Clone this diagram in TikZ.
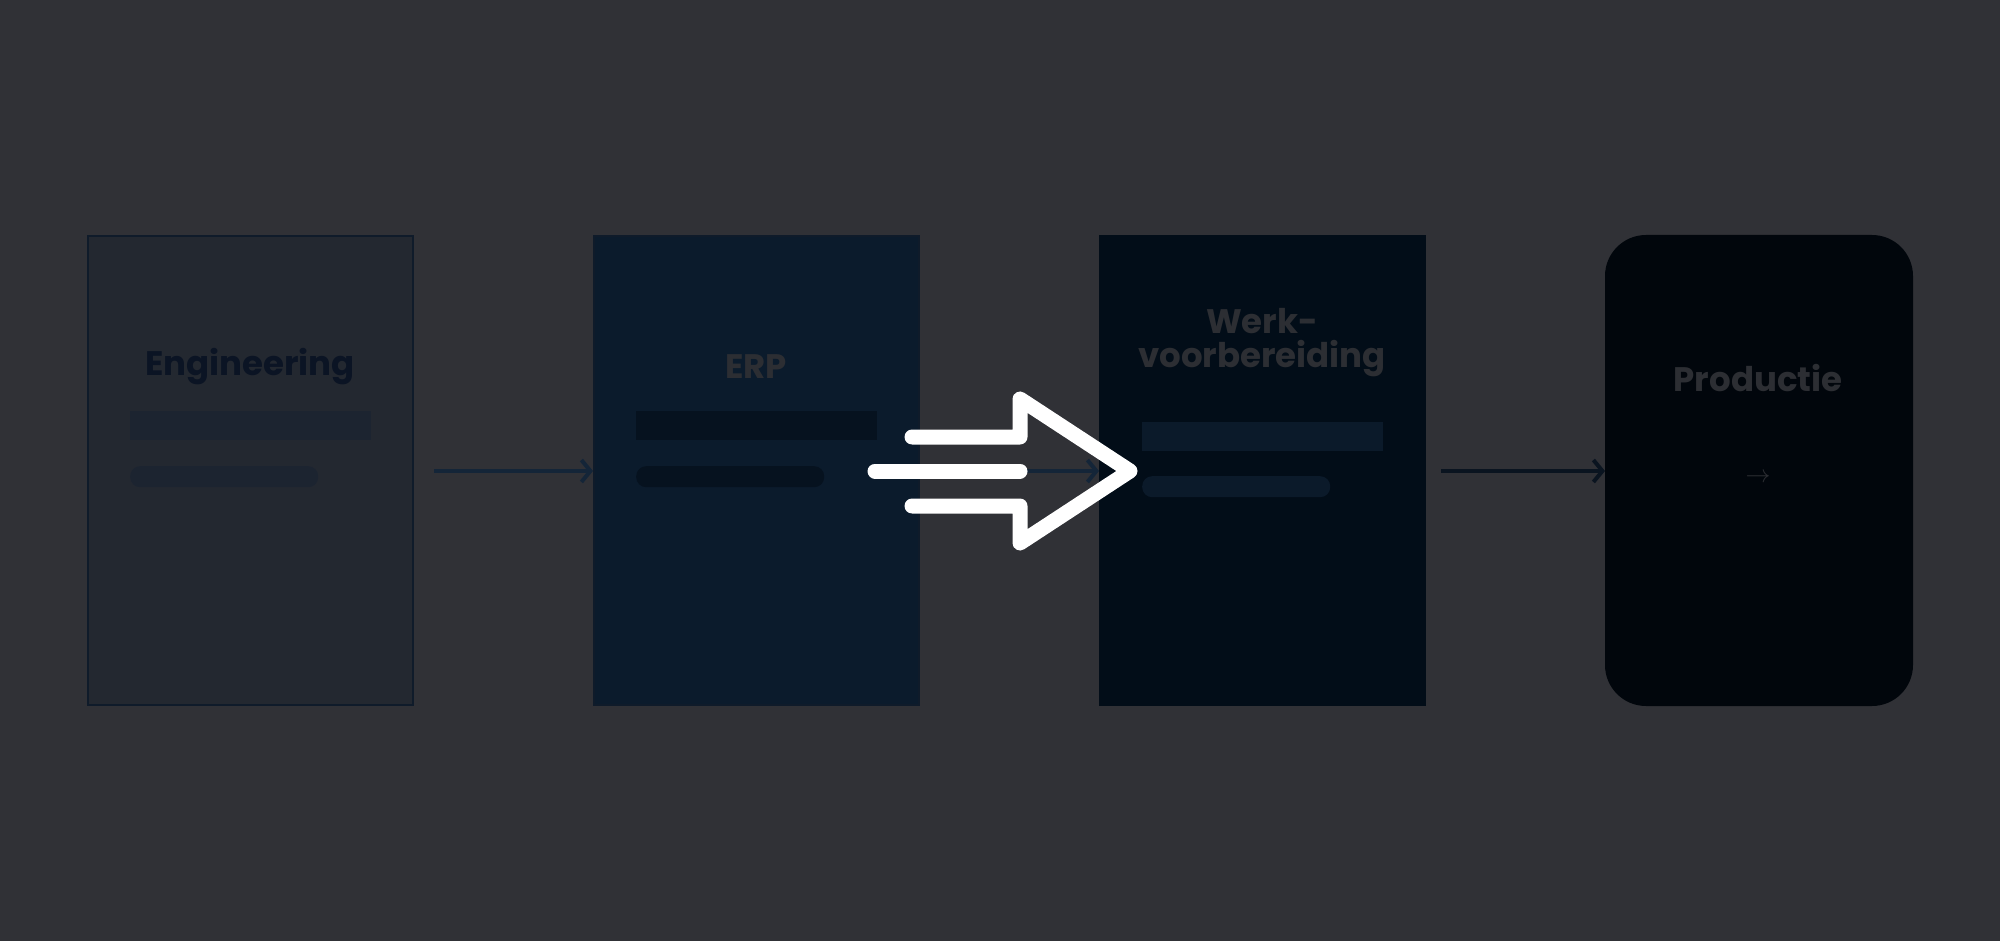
\documentclass[tikz,border=0pt]{standalone}
\usepackage{fontspec}
\setmainfont{Poppins}
\usetikzlibrary{positioning,arrows.meta}
\definecolor{bgdark}{HTML}{303136}
\definecolor{engfill}{HTML}{232830}
\definecolor{erpfill}{HTML}{0B1B2C}
\definecolor{werkfill}{HTML}{020D18}
\definecolor{prodfill}{HTML}{01060C}
\definecolor{boxedge}{HTML}{0F1B2A}
\definecolor{engtext}{HTML}{0B1424}
\definecolor{greytext}{HTML}{2C2E33}
\definecolor{engbar}{HTML}{1C2430}
\definecolor{erpbar}{HTML}{06121F}
\definecolor{werkbar}{HTML}{0B1A2A}
\definecolor{flowblue}{HTML}{142538}
\definecolor{flowdark}{HTML}{0A1420}

\begin{document}
\begin{tikzpicture}[x=1pt,y=-1pt,
    stage/.style={draw=boxedge, line width=2pt, minimum width=325pt, minimum height=469pt, inner sep=0pt},
    title/.style={font=\bfseries\fontsize{34}{40}\selectfont, align=center},
    bar/.style={minimum width=241pt, minimum height=29pt, inner sep=0pt},
    pill/.style={minimum width=188pt, minimum height=21pt, inner sep=0pt, rounded corners=10pt},
    flow/.style={line width=4pt, -{Straight Barb[length=9pt,width=22pt,line width=4pt]}},
    bigarrow/.style={draw=white, line width=15pt, line cap=round, line join=round}
]
\fill[bgdark] (0,0) rectangle (2000,941);

% Stages
\node[stage, fill=engfill, anchor=north west] (eng) at (87,235) {};
\node[stage, fill=erpfill, anchor=north west] (erp) at (593,235) {};
\node[stage, fill=werkfill, draw=werkfill, anchor=north west] (werk) at (1099,235) {};
\node[stage, fill=prodfill, draw=prodfill, minimum width=306pt, rounded corners=40pt, anchor=north west] (prod) at (1605,235) {};

% Titles
\node[title, text=engtext] (engtitle) at (250,367) {Engineering};
\node[title, text=greytext] (erptitle) at (756,367) {ERP};
\node[title, text=greytext] (werktitle) at (1262,343) {Werk-\\[-6pt]voorbereiding};
\node[title, text=greytext] (prodtitle) at (1758,378) {Productie};

% Placeholder bars
\node[bar, fill=engbar, anchor=north west] (engbar1) at (130,411) {};
\node[pill, fill=engbar, anchor=north west] (engbar2) at (130,466) {};
\node[bar, fill=erpbar, anchor=north west] (erpbar1) at (636,411) {};
\node[pill, fill=erpbar, anchor=north west] (erpbar2) at (636,466) {};
\node[bar, fill=werkbar, anchor=north west] (werkbar1) at (1142,422) {};
\node[pill, fill=werkbar, anchor=north west] (werkbar2) at (1142,476) {};

% Connectors
\coordinate (a1) at (434,471);
\coordinate (a2) at (1441,471);
\draw[flow, flowblue] (a1) -- (a1 -| erp.west);
\draw[flow, flowblue] (erp.east |- a1) -- (a1 -| werk.west);
\draw[flow, flowdark] (a2) -- (a2 -| prod.west);
\node[text=greytext, font=\fontsize{34}{40}\selectfont] (prodarrow) at (1758,478) {$\rightarrow$};

% Big white arrow
\coordinate (tip) at (1130,471);
\draw[bigarrow] (912,437) -- (1020,437) -- (1020,399) -- (tip) -- (1020,543) -- (1020,506) -- (912,506);
\draw[bigarrow] (875,471) -- (1020,471);
\end{tikzpicture}
\end{document}
